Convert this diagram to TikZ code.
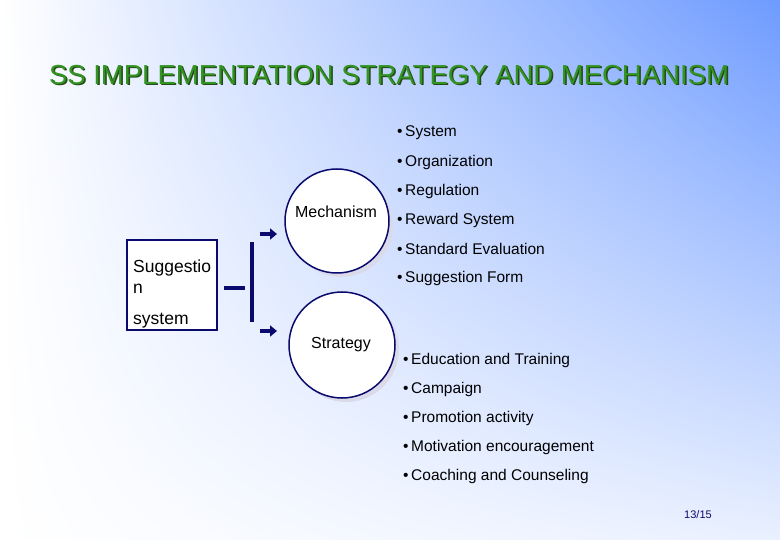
\documentclass[tikz,border=0pt]{standalone}
\usepackage{fontspec}
\setmainfont{Liberation Sans}
\usetikzlibrary{arrows.meta,shadings}
\definecolor{navy}{HTML}{0A0A6E}
\definecolor{ttl}{HTML}{3F7A2A}
\definecolor{bgb}{HTML}{6E9BFF}
\begin{document}
\begin{tikzpicture}[x=1pt,y=-1pt,
  bul/.style={anchor=west,inner sep=0pt,font=\fontsize{15.5}{15.5}\selectfont},
  circ/.style={circle,draw=navy,line width=1.5pt,fill=white,minimum size=104pt,inner sep=0pt},
  arr/.style={-{Triangle[length=7pt,width=11pt]},navy,line width=4.5pt}]
\useasboundingbox (0,0) rectangle (780,540);
\shade[upper left=white,lower left=white,upper right=bgb,lower right=white!85!bgb] (0,0) rectangle (780,540);
\node[text=ttl!60!black,font=\fontsize{27.5}{27.5}\selectfont] (tsh) at (390.5,76.5) {SS IMPLEMENTATION STRATEGY AND MECHANISM};
\node[text=ttl!80!green,font=\fontsize{27.5}{27.5}\selectfont] (title) at (389,75) {SS IMPLEMENTATION STRATEGY AND MECHANISM};
\foreach \t [count=\i] in {System,Organization,Regulation,Reward System,Standard Evaluation,Suggestion Form}
  \node[bul] (m\i) at (397,{104+29*\i}) {•\,\t};
\foreach \t [count=\i] in {Education and Training,Campaign,Promotion activity,Motivation encouragement,Coaching and Counseling}
  \node[bul] (s\i) at (403,{332+28.8*\i}) {•\,\t};
\fill[navy!15] (341,225) circle (52);
\fill[navy!15] (346,349) circle (53);
\node[circ] (mech) at (337,221) {};
\node[font=\fontsize{16}{16}\selectfont] (mt) at (336,212) {Mechanism};
\node[circ,minimum size=106pt] (strat) at (342,345) {};
\node[font=\fontsize{16}{16}\selectfont] (st) at (341,345) {Strategy};
\node[draw=navy,line width=1.5pt,fill=white,minimum width=90pt,minimum height=90pt,inner sep=0pt] (box) at (172,285) {};
\node[anchor=west,inner sep=0pt,font=\fontsize{17.5}{17.5}\selectfont] (bt1) at (133,268) {Suggestio};
\node[anchor=west,inner sep=0pt,font=\fontsize{17.5}{17.5}\selectfont] (bt2) at (133,289) {n};
\node[anchor=west,inner sep=0pt,font=\fontsize{17.5}{17.5}\selectfont] (bt3) at (133,321) {system};
\coordinate (d1) at (224,288);
\coordinate (d2) at (245,288);
\draw[navy,line width=4.5pt] (d1) -- (d2);
\coordinate (v1) at (252,242);
\coordinate (v2) at (252,322);
\draw[navy,line width=4.5pt] (v1) -- (v2);
\coordinate (a1) at (260,234);
\coordinate (a2) at (260,331);
\coordinate (b1) at (277,234);
\coordinate (b2) at (277,331);
\draw[arr] (a1) -- (b1);
\draw[arr] (a2) -- (b2);
\node[text=navy,font=\fontsize{11}{11}\selectfont] (pg) at (698,515) {13/15};
\end{tikzpicture}
\end{document}
